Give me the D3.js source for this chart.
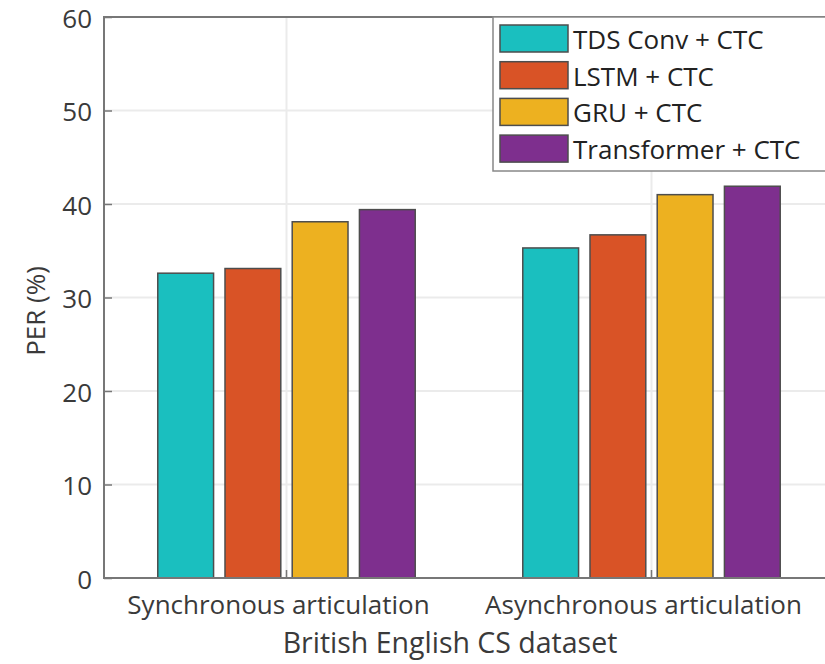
<!DOCTYPE html>
<html>
<head>
<meta charset="utf-8">
<script src="https://cdn.jsdelivr.net/npm/d3@7"></script>
<style>
  body { margin: 0; background: #fff; }
  svg { display: block; }
  text { font-family: "Open Sans", "Noto Sans", sans-serif; }
</style>
</head>
<body>
<svg id="chart" width="825" height="664"></svg>
<script>
const categories = ['Synchronous articulation', 'Asynchronous articulation']
const series = ['TDS Conv + CTC', 'LSTM + CTC', 'GRU + CTC', 'Transformer + CTC']
const tdsConv = [32.6, 35.3]
const lstm = [33.1, 36.7]
const gru = [38.1, 41.0]
const transformer = [39.4, 41.9]
const yTicks = [0, 10, 20, 30, 40, 50, 60]

const values = [tdsConv, lstm, gru, transformer]
const colors = ['#1abfbf', '#d95326', '#edb120', '#7e2f8e']

const mLeft = 104, mRight = 834, mTop = 17, mBottom = 578

const svg = d3.select('#chart')

const x0 = d3.scaleBand()
  .domain(categories)
  .range([mLeft, mRight])
  .padding(0)

const x1 = d3.scaleBand()
  .domain(series)
  .range([0, x0.bandwidth()])
  .paddingInner(0.17)
  .paddingOuter(0.8)

const y = d3.scaleLinear()
  .domain([0, 60])
  .range([mBottom, mTop])

// grid
svg.append('g')
  .selectAll('line')
  .data(yTicks.slice(1, -1))
  .enter().append('line')
  .attr('x1', mLeft).attr('x2', mRight)
  .attr('y1', d => y(d)).attr('y2', d => y(d))
  .attr('stroke', '#ebebeb')
  .attr('stroke-width', 2)

svg.append('g')
  .selectAll('line')
  .data(categories)
  .enter().append('line')
  .attr('x1', d => x0(d) + x0.bandwidth() / 2)
  .attr('x2', d => x0(d) + x0.bandwidth() / 2)
  .attr('y1', mTop).attr('y2', mBottom)
  .attr('stroke', '#ebebeb')
  .attr('stroke-width', 2)

// bars
const rows = []
categories.forEach((c, ci) => {
  series.forEach((s, si) => {
    rows.push({ cat: c, s: s, si: si, v: values[si][ci] })
  })
})

svg.append('g')
  .selectAll('rect')
  .data(rows)
  .enter().append('rect')
  .attr('x', d => x0(d.cat) + x1(d.s))
  .attr('y', d => y(d.v))
  .attr('width', x1.bandwidth())
  .attr('height', d => y(0) - y(d.v))
  .attr('fill', d => colors[d.si])
  .attr('stroke', '#4d4d4d')
  .attr('stroke-width', 1.5)

// axes
const yAxis = svg.append('g')
  .attr('transform', `translate(${mLeft},0)`)
  .call(d3.axisRight(y).tickValues(yTicks).tickSize(8).tickFormat(''))
yAxis.select('.domain').remove()
yAxis.selectAll('line').attr('stroke', '#777').attr('stroke-width', 1.5)

svg.append('g')
  .selectAll('text')
  .data(yTicks)
  .enter().append('text')
  .attr('x', mLeft - 12)
  .attr('y', d => y(d))
  .attr('dy', '0.42em')
  .attr('text-anchor', 'end')
  .attr('font-size', 26)
  .attr('fill', '#3a3a3a')
  .text(d => d)

const xAxis = svg.append('g')
  .attr('transform', `translate(0,${mBottom})`)
  .call(d3.axisTop(x0).tickSize(8).tickFormat(''))
xAxis.select('.domain').remove()
xAxis.selectAll('line').attr('stroke', '#777').attr('stroke-width', 1.5)

svg.append('g')
  .selectAll('text')
  .data(categories)
  .enter().append('text')
  .attr('x', d => x0(d) + x0.bandwidth() / 2 - 8)
  .attr('y', 614)
  .attr('text-anchor', 'middle')
  .attr('font-size', 26)
  .attr('fill', '#3a3a3a')
  .text(d => d)

svg.append('rect')
  .attr('x', mLeft).attr('y', mTop)
  .attr('width', mRight - mLeft).attr('height', mBottom - mTop)
  .attr('fill', 'none')
  .attr('stroke', '#777')
  .attr('stroke-width', 2)

svg.append('text')
  .attr('x', 450)
  .attr('y', 653)
  .attr('text-anchor', 'middle')
  .attr('font-size', 28.5)
  .attr('fill', '#3a3a3a')
  .text('British English CS dataset')

svg.append('text')
  .attr('transform', 'translate(45,311) rotate(-90)')
  .attr('text-anchor', 'middle')
  .attr('font-size', 26)
  .attr('fill', '#3a3a3a')
  .text('PER (%)')

// legend
const legend = svg.append('g')
legend.append('rect')
  .attr('x', 493).attr('y', mTop)
  .attr('width', 360).attr('height', 154)
  .attr('fill', '#fff')
  .attr('stroke', '#888')
  .attr('stroke-width', 1.5)

const item = legend.selectAll('g.item')
  .data(series)
  .enter().append('g')
  .attr('class', 'item')
  .attr('transform', (d, i) => `translate(500,${25 + i * 36.7})`)

item.append('rect')
  .attr('width', 68).attr('height', 27)
  .attr('fill', (d, i) => colors[i])
  .attr('stroke', '#4d4d4d')
  .attr('stroke-width', 1.5)

item.append('text')
  .attr('x', 73)
  .attr('y', 24)
  .attr('font-size', 26)
  .attr('fill', '#222')
  .text(d => d)
</script>
</body>
</html>
